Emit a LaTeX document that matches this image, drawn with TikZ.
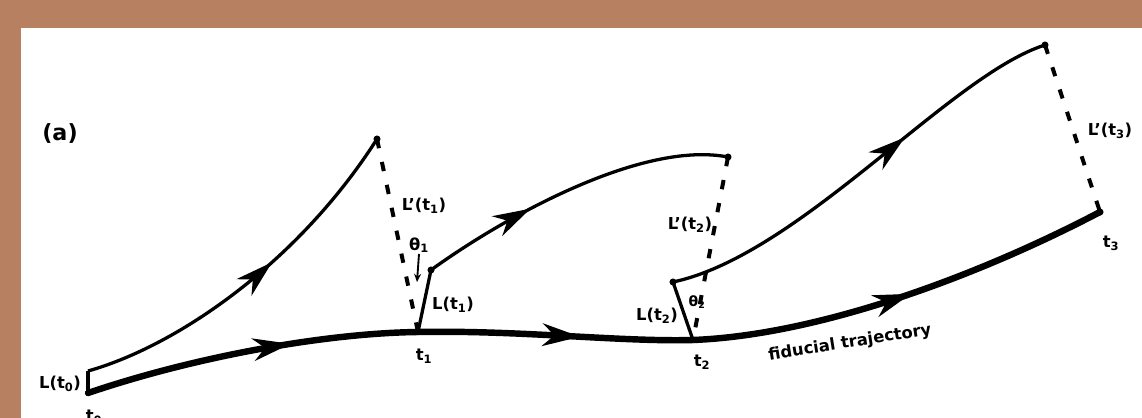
\documentclass[tikz,border=0pt]{standalone}
\usepackage{fontspec}
\setmainfont{DejaVu Sans}
\usetikzlibrary{arrows.meta, decorations.markings, positioning}
\definecolor{frame}{RGB}{182,128,97}

\begin{document}
\begin{tikzpicture}[
    x=0.03cm, y=-0.03cm,
    fid/.style={line width=5.5pt, line cap=round},
    orbit/.style={line width=2.8pt},
    lvec/.style={line width=2.8pt},
    lprime/.style={line width=3.4pt, dash pattern=on 8pt off 12pt},
    midarrow/.style={postaction={decorate}, decoration={markings, mark=at position #1 with {\arrow{Stealth[length=32pt, width=19pt, inset=10pt]}}}},
    tag/.style={font=\bfseries\fontsize{14}{16}\selectfont, inner sep=1pt}
]
    % Frame
    \fill[frame] (0,0) rectangle (1142,418);
    \fill[white] (21,28) rectangle (1142,418);
    \useasboundingbox (0,0) rectangle (1142,418);

    % Points on the fiducial trajectory
    \coordinate (t0) at (88,393);
    \coordinate (t1) at (418,332);
    \coordinate (t2) at (693,340);
    \coordinate (t3) at (1100,212);
    % Tips of the vectors L(t)
    \coordinate (l0) at (88,371);
    \coordinate (l1) at (431,270);
    \coordinate (l2) at (673,282);
    % Ends of the perturbed orbits
    \coordinate (e1) at (377,139);
    \coordinate (e2) at (728,157);
    \coordinate (e3) at (1045,45);
    \coordinate (thtip) at (417,282);

    % Fiducial trajectory
    \draw[fid, midarrow=0.62] (t0) .. controls (200,355) and (330,333) .. (t1);
    \draw[fid, midarrow=0.59] (t1) .. controls (520,330) and (620,342) .. (t2);
    \draw[fid, midarrow=0.52] (t2) .. controls (820,335) and (980,275) .. (t3);

    % Perturbed orbits
    \draw[orbit, midarrow=0.57] (l0) .. controls (180,345) and (300,260) .. (e1);
    \draw[orbit, midarrow=0.36] (l1) .. controls (500,220) and (640,140) .. (e2);
    \draw[orbit, midarrow=0.62] (l2) .. controls (800,255) and (950,75) .. (e3);

    % Separation vectors
    \draw[lvec] (t0) -- (l0);
    \draw[lvec] (t1) -- (l1);
    \draw[lvec] (t2) -- (l2);
    \draw[lprime] (e1) -- (t1);
    \draw[lprime] (e2) -- (t2);
    \draw[lprime] (e3) -- (t3);
    \foreach \p in {e1,e2,e3,t3,l1,l2}
        \fill (\p) circle (3pt);

    % Labels
    \node[font=\bfseries\fontsize{19}{22}\selectfont] (panel) at (60,134) {(a)};
    \node[tag] (Lt0) at (60,384) {L(t\textsubscript{0})};
    \node[tag] (tt0) at (94,417) {t\textsubscript{0}};
    \node[tag] (Lp1) at (424,206) {L'(t\textsubscript{1})};
    \node[tag] (th1) at (419,245) {θ\textsubscript{1}};
    \node[tag] (L1) at (453,305) {L(t\textsubscript{1})};
    \node[tag] (tt1) at (424,356) {t\textsubscript{1}};
    \node[tag] (Lp2) at (690,225) {L'(t\textsubscript{2})};
    \node[tag] (L2) at (657,316) {L(t\textsubscript{2})};
    \node[tag, font=\bfseries\fontsize{12}{14}\selectfont] (th2) at (697,302) {θ\textsubscript{2}};
    \node[tag] (tt2) at (702,362) {t\textsubscript{2}};
    \node[tag, rotate=9] (fidtxt) at (850,343) {fiducial trajectory};
    \node[tag] (Lp3) at (1110,131) {L'(t\textsubscript{3})};
    \node[tag] (tt3) at (1111,243) {t\textsubscript{3}};
    \draw[-{Stealth[length=7pt, width=6pt]}, line width=1.6pt] (th1.south) -- (thtip);

\end{tikzpicture}
\end{document}
